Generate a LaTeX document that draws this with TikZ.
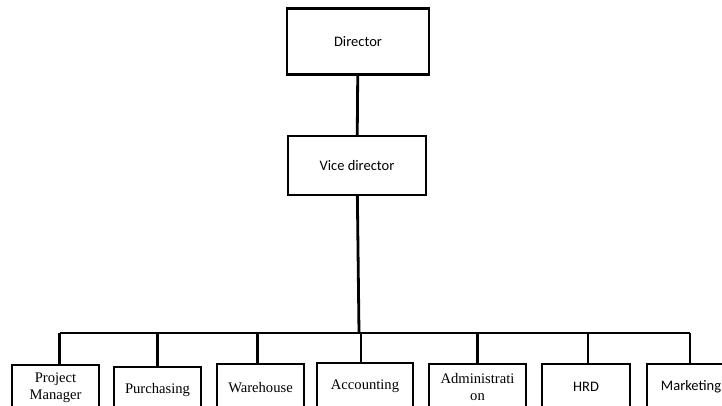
\documentclass[tikz,border=0pt]{standalone}
\usepackage{fontspec}
\setmainfont{Liberation Serif}
\newfontfamily\calibri{Carlito}
\usepackage{tikz}
\usetikzlibrary{positioning}

\begin{document}
\begin{tikzpicture}[
  x=1pt,y=-1pt,
  box/.style={draw,line width=2.4pt,align=center,inner sep=2pt,font=\fontsize{14.6}{17}\selectfont},
  topbox/.style={box,font=\calibri\fontsize{14.5}{17}\selectfont},
  dept/.style={box,anchor=north,minimum height=46pt},
  link/.style={line width=2.8pt}
]
\useasboundingbox (0,0) rectangle (722,405);
\clip (0,0) rectangle (722,405);
\fill[white] (0,0) rectangle (722,405);
\node[topbox,minimum width=142pt,minimum height=66pt] (director) at (358,41.5) {Director};
\node[topbox,minimum width=138pt,minimum height=59pt] (vice) at (357,165.5) {Vice director};
\coordinate (bus) at (359,333);
% departments
\node[dept,minimum width=87pt] (pm) at (55.5,364) {Project\\Manager};
\node[dept,minimum width=87pt] (purch) at (157.5,366) {Purchasing};
\node[dept,minimum width=87pt] (ware) at (260.5,363) {Warehouse};
\node[dept,minimum width=96pt] (acc) at (365,362) {Accounting};
\node[dept,minimum width=97pt] (adm) at (477.5,363) {Administrati\\on};
\node[dept,minimum width=88pt,font=\calibri\fontsize{14.5}{17}\selectfont] (hrd) at (586,363) {HRD};
\node[dept,minimum width=88pt,font=\calibri\fontsize{14.5}{17}\selectfont] (mkt) at (691,363) {Marketing};
\draw[link] (director) -- (vice);
\draw[link] (vice) -- (bus);
\draw[link] ([xshift=4pt]pm.north |- bus) -- ([xshift=-1pt]mkt.north |- bus);
\foreach \d/\dx in {pm/4,purch/0,ware/-3,acc/-4,adm/0,hrd/2,mkt/-1}
  \draw[link] ([xshift=\dx pt]\d.north |- bus) -- ([xshift=\dx pt]\d.north);
\end{tikzpicture}
\end{document}
